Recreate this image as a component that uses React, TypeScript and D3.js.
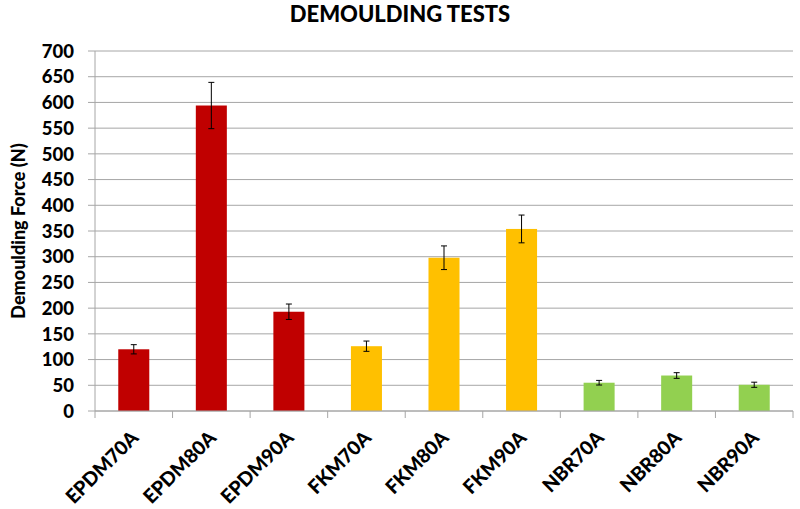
import React from "react";
import * as d3 from "d3";

// Data
const categories = ["EPDM70A", "EPDM80A", "EPDM90A", "FKM70A", "FKM80A", "FKM90A", "NBR70A", "NBR80A", "NBR90A"];
const forces = [120, 594, 193, 126, 298, 354, 55, 69, 51];
const errors = [9, 45, 15, 10, 23, 27, 4.5, 5.5, 5];
const groups = ["EPDM", "EPDM", "EPDM", "FKM", "FKM", "FKM", "NBR", "NBR", "NBR"];
const yTicks = [0, 50, 100, 150, 200, 250, 300, 350, 400, 450, 500, 550, 600, 650, 700];

const width = 800;
const height = 509;
const margin = { top: 51, right: 7, bottom: 98, left: 95 };
const font = "Lato, 'Open Sans', sans-serif";

const colorOf: Record<string, string> = { EPDM: "#C00000", FKM: "#FFC000", NBR: "#92D050" };

const App = () => {
  const x = d3
    .scaleBand()
    .domain(categories)
    .range([margin.left, width - margin.right])
    .padding(0);

  const y = d3
    .scaleLinear()
    .domain([0, 700])
    .range([height - margin.bottom, margin.top]);

  const barW = x.bandwidth() * 0.4;
  const y0 = y(0);
  const capW = 3;

  return (
    <svg width={width} height={height} style={{ position: "absolute", left: 0, top: 0, background: "#fff" }}>
      <text x={400} y={22} textAnchor="middle" fontFamily={font} fontWeight="900" fontSize={22} fill="#000">
        DEMOULDING TESTS
      </text>

      {/* gridlines */}
      {yTicks.map((t) => (
        <g key={t}>
          <line x1={margin.left - 7} x2={width - margin.right} y1={y(t)} y2={y(t)} stroke="#a6a6a6" strokeWidth={1} />
          <text x={74} y={y(t)} dy="0.36em" textAnchor="end" fontFamily={font} fontWeight="900" fontSize={18.5} fill="#000">
            {t}
          </text>
        </g>
      ))}

      {/* y axis line */}
      <line x1={margin.left} x2={margin.left} y1={y(700)} y2={y0} stroke="#a6a6a6" strokeWidth={1} />

      {/* bars */}
      {categories.map((c, i) => {
        const cx = (x(c) as number) + x.bandwidth() / 2;
        return (
          <g key={c}>
            <rect x={cx - barW / 2} y={y(forces[i])} width={barW} height={y0 - y(forces[i])} fill={colorOf[groups[i]]} />
            <line x1={cx} x2={cx} y1={y(forces[i] + errors[i])} y2={y(forces[i] - errors[i])} stroke="#000" strokeWidth={1} />
            <line x1={cx - capW} x2={cx + capW} y1={y(forces[i] + errors[i])} y2={y(forces[i] + errors[i])} stroke="#000" strokeWidth={1} />
            <line x1={cx - capW} x2={cx + capW} y1={y(forces[i] - errors[i])} y2={y(forces[i] - errors[i])} stroke="#000" strokeWidth={1} />
          </g>
        );
      })}

      {/* x axis */}
      <line x1={margin.left} x2={width - margin.right} y1={y0} y2={y0} stroke="#a6a6a6" strokeWidth={1} />
      {categories.concat([""]).map((c, i) => {
        const tx = margin.left + i * x.bandwidth();
        return <line key={"t" + i} x1={tx} x2={tx} y1={y0} y2={y0 + 7} stroke="#a6a6a6" strokeWidth={1} />;
      })}
      {categories.map((c) => {
        const cx = (x(c) as number) + x.bandwidth() / 2;
        return (
          <text
            key={"l" + c}
            transform={`translate(${cx + 6},${y0 + 28}) rotate(-45)`}
            textAnchor="end"
            fontFamily={font}
            fontWeight="900"
            fontSize={19.5}
            fill="#000"
          >
            {c}
          </text>
        );
      })}

      <text
        transform={`translate(25,${(y(700) + y0) / 2}) rotate(-90)`}
        textAnchor="middle"
        fontFamily={font}
        fontWeight="900"
        fontSize={18}
        fill="#000"
      >
        Demoulding Force (N)
      </text>
    </svg>
  );
};

export default App;
